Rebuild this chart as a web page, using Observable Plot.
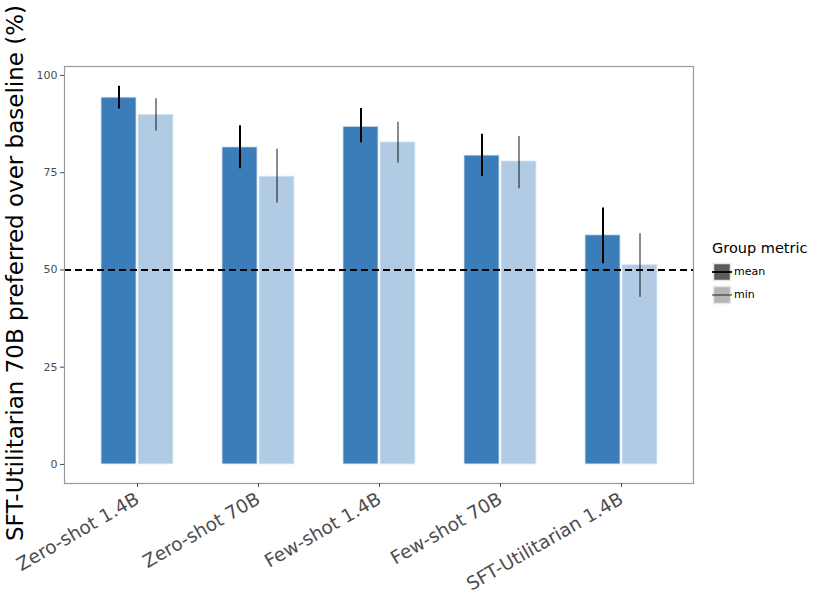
<!DOCTYPE html>
<html>
<head>
<meta charset="utf-8">
<script src="https://cdn.jsdelivr.net/npm/d3@7"></script>
<script src="https://cdn.jsdelivr.net/npm/@observablehq/plot@0.6"></script>
<style>
  body { margin: 0; background: #fff; font-family: "DejaVu Sans", sans-serif; }
  #wrap { position: relative; width: 831px; height: 603px; }
  #legend { position: absolute; left: 712px; top: 240px; font-family: "DejaVu Sans", sans-serif; }
  #legend .title { font-size: 14.5px; color: #000; margin-bottom: 4px; }
  #legend .row { display: flex; align-items: center; height: 23px; font-size: 11px; color: #000; }
  #legend svg { margin-right: 2px; }
</style>
</head>
<body>
<div id="wrap"></div>
<script>
const categories = ["Zero-shot 1.4B", "Zero-shot 70B", "Few-shot 1.4B", "Few-shot 70B", "SFT-Utilitarian 1.4B"];
const meanValues = [94.3, 81.5, 86.8, 79.4, 58.9];
const meanLow    = [91.4, 76.0, 82.7, 74.0, 51.6];
const meanHigh   = [97.2, 87.1, 91.5, 84.9, 65.9];
const minValues  = [89.9, 74.0, 82.8, 77.9, 51.3];
const minLow     = [85.7, 67.2, 77.5, 70.9, 43.0];
const minHigh    = [94.0, 81.0, 88.0, 84.3, 59.3];
const yTicks = [0, 25, 50, 75, 100];
const baseline = 50;
const yLabel = "SFT-Utilitarian 70B preferred over baseline (%)";
const legendTitle = "Group metric";
const metrics = ["mean", "min"];

const meanData = categories.map((c, i) => ({cat: c, v: meanValues[i], lo: meanLow[i], hi: meanHigh[i]}));
const minData = categories.map((c, i) => ({cat: c, v: minValues[i], lo: minLow[i], hi: minHigh[i]}));

const darkBlue = "#3a7db8";
const lightBlue = "#b0cbe3";

const plot = Plot.plot({
  width: 831,
  height: 603,
  marginTop: 66,
  marginBottom: 120,
  marginLeft: 64,
  marginRight: 138,
  style: {fontFamily: "DejaVu Sans, sans-serif", background: "#fff"},
  x: {domain: categories, paddingInner: 0.405, paddingOuter: 0.30},
  y: {domain: [-4.9, 102.3]},
  marks: [
    Plot.barY(meanData, {x: "cat", y: "v", fill: darkBlue, stroke: "#dbe7f2", strokeWidth: 0.8, insetRight: 37}),
    Plot.barY(minData, {x: "cat", y: "v", fill: lightBlue, stroke: "#e4edf6", strokeWidth: 0.8, insetLeft: 37}),
    Plot.ruleX(meanData, {x: "cat", y1: "lo", y2: "hi", stroke: "#000", strokeWidth: 2, dx: -18.5}),
    Plot.ruleX(minData, {x: "cat", y1: "lo", y2: "hi", stroke: "#000", strokeOpacity: 0.45, strokeWidth: 2, dx: 18.5}),
    Plot.ruleY([baseline], {stroke: "#000", strokeWidth: 2, strokeDasharray: "7,4"}),
    Plot.frame({stroke: "#9a9a9a", strokeWidth: 1.2}),
    Plot.axisY({ticks: yTicks, tickSize: 4, fontSize: 11, color: "#4d4d4d", stroke: "#4d4d4d", label: null, tickPadding: 3}),
    Plot.axisX({tickSize: 4, fontSize: 18.5, color: "#4d4d4d", stroke: "#4d4d4d", tickRotate: -30, label: null, tickPadding: 10}),
    Plot.text([yLabel], {text: d => d, frameAnchor: "left", textAnchor: "middle", dx: -49, dy: -2, rotate: -90, fontSize: 23, fill: "#000"})
  ]
});

const wrap = document.getElementById("wrap");
wrap.appendChild(plot);

const legend = document.createElement("div");
legend.id = "legend";
const title = document.createElement("div");
title.className = "title";
title.textContent = legendTitle;
legend.appendChild(title);
const keyStyles = {
  mean: {fill: "#5b5b5b", border: "#e6e6e6", line: "#000", opacity: 1},
  min: {fill: "#b5b5b5", border: "#e6e6e6", line: "#000", opacity: 0.45}
};
metrics.forEach(m => {
  const s = keyStyles[m];
  const row = document.createElement("div");
  row.className = "row";
  row.innerHTML = `<svg width="20" height="20"><rect x="1.5" y="1.5" width="17" height="17" fill="${s.fill}" stroke="${s.border}" stroke-width="1.5"/><line x1="0" x2="20" y1="10" y2="10" stroke="${s.line}" stroke-opacity="${s.opacity}" stroke-width="1.8"/></svg><span>${m}</span>`;
  legend.appendChild(row);
});
wrap.appendChild(legend);
</script>
</body>
</html>
